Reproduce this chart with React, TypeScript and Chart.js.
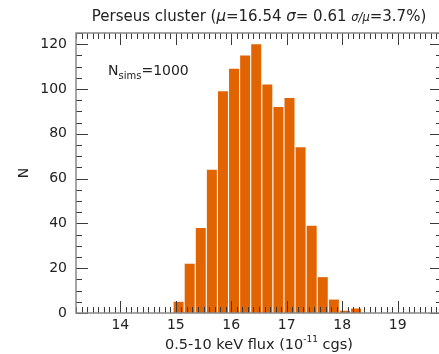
import React, { useEffect, useRef } from "react";
import { Chart, registerables } from "chart.js";

Chart.register(...registerables);

// ---- data ----
const binCenters = [15.05, 15.25, 15.45, 15.65, 15.85, 16.05, 16.25, 16.45, 16.65, 16.85, 17.05, 17.25, 17.45, 17.65, 17.85, 18.05, 18.25];
const counts = [5, 22, 38, 64, 99, 109, 115, 120, 102, 92, 96, 74, 39, 16, 6, 1, 2];
const xRange = [13.2, 19.8];
const yRange = [0, 125];
const xMajorStep = 1;
const xMinorStep = 0.1;
const yMajorStep = 20;
const yMinorStep = 5;

const titleParts: { t: string; italic?: boolean; small?: boolean }[] = [
  { t: "Perseus cluster (" },
  { t: "μ", italic: true },
  { t: "=16.54 " },
  { t: "σ", italic: true },
  { t: "= 0.61 " },
  { t: "σ/μ", italic: true, small: true },
  { t: "=3.7%)" },
];
const xTitleMain = "0.5-10 keV flux (10";
const xTitleSup = "-11";
const xTitleEnd = " cgs)";
const yTitle = "N";
const annotMain = "N";
const annotSub = "sims";
const annotEnd = "=1000";

const FONT = "'DejaVu Sans', Verdana, sans-serif";
const BAR_COLOR = "#E26400";

const decor = {
  id: "decor",
  afterDatasetsDraw(chart: any) {
    const { ctx, chartArea } = chart;
    const xs = chart.scales.x;
    const ys = chart.scales.y;
    const { left, right, top, bottom } = chartArea;
    ctx.save();
    // ticks
    ctx.strokeStyle = "#3a3a3a";
    ctx.lineWidth = 1;
    ctx.beginPath();
    const nx0 = Math.ceil(xRange[0] / xMinorStep - 1e-6);
    const nx1 = Math.floor(xRange[1] / xMinorStep + 1e-6);
    for (let i = nx0; i <= nx1; i++) {
      const v = i * xMinorStep;
      const major = Math.abs(v / xMajorStep - Math.round(v / xMajorStep)) < 1e-6;
      const len = major ? 12 : 6;
      const px = Math.round(xs.getPixelForValue(v)) + 0.5;
      ctx.moveTo(px, bottom);
      ctx.lineTo(px, bottom - len);
      ctx.moveTo(px, top);
      ctx.lineTo(px, top + len);
    }
    const ny0 = Math.ceil(yRange[0] / yMinorStep - 1e-6);
    const ny1 = Math.floor(yRange[1] / yMinorStep + 1e-6);
    for (let i = ny0; i <= ny1; i++) {
      const v = i * yMinorStep;
      const major = v % yMajorStep === 0;
      const len = major ? 12 : 6;
      const py = Math.round(ys.getPixelForValue(v)) + 0.5;
      ctx.moveTo(left, py);
      ctx.lineTo(left + len, py);
      ctx.moveTo(right, py);
      ctx.lineTo(right - len, py);
    }
    ctx.stroke();
    // frame
    ctx.strokeStyle = "#888";
    ctx.lineWidth = 1.5;
    ctx.strokeRect(left, top, right - left, bottom - top);
    ctx.restore();
  },
  afterDraw(chart: any) {
    const { ctx, chartArea } = chart;
    const { left, right, top, bottom } = chartArea;
    const cx = (left + right) / 2;
    ctx.save();
    ctx.fillStyle = "#222";
    ctx.textBaseline = "alphabetic";
    ctx.textAlign = "left";
    // title
    const fontFor = (p: any) => `${p.italic ? "italic " : ""}${p.small ? 11.5 : 15}px ${FONT}`;
    let total = 0;
    const widths = titleParts.map((p) => {
      ctx.font = fontFor(p);
      const w = ctx.measureText(p.t).width;
      total += w;
      return w;
    });
    let x = cx - total / 2;
    titleParts.forEach((p, i) => {
      ctx.font = fontFor(p);
      ctx.fillText(p.t, x, 21);
      x += widths[i];
    });
    // x title
    ctx.font = `14.5px ${FONT}`;
    const w1 = ctx.measureText(xTitleMain).width;
    const w3 = ctx.measureText(xTitleEnd).width;
    ctx.font = `9px ${FONT}`;
    const w2 = ctx.measureText(xTitleSup).width;
    let xx = cx - (w1 + w2 + w3) / 2;
    ctx.font = `14.5px ${FONT}`;
    ctx.fillText(xTitleMain, xx, 349);
    xx += w1;
    ctx.font = `9px ${FONT}`;
    ctx.fillText(xTitleSup, xx, 342);
    xx += w2;
    ctx.font = `14.5px ${FONT}`;
    ctx.fillText(xTitleEnd, xx, 349);
    // annotation
    let ax = 108;
    ctx.font = `14px ${FONT}`;
    ctx.fillText(annotMain, ax, 75);
    ax += ctx.measureText(annotMain).width;
    ctx.font = `10px ${FONT}`;
    ctx.fillText(annotSub, ax, 79);
    ax += ctx.measureText(annotSub).width;
    ctx.font = `14px ${FONT}`;
    ctx.fillText(annotEnd, ax, 75);
    // y title
    ctx.translate(28, (top + bottom) / 2);
    ctx.rotate(-Math.PI / 2);
    ctx.textAlign = "center";
    ctx.font = `14px ${FONT}`;
    ctx.fillText(yTitle, 0, 0);
    ctx.restore();
  },
};

export default function App() {
  const ref = useRef<HTMLCanvasElement | null>(null);
  useEffect(() => {
    if (!ref.current) return;
    const chart = new Chart(ref.current, {
      type: "bar",
      data: {
        datasets: [
          {
            data: binCenters.map((x, i) => ({ x, y: counts[i] })),
            backgroundColor: BAR_COLOR,
            borderWidth: 0,
            barPercentage: 0.9,
            categoryPercentage: 1,
          } as any,
        ],
      },
      options: {
        animation: false,
        responsive: false,
        maintainAspectRatio: false,
        layout: { padding: { top: 33, right: 3, left: 0, bottom: 0 } },
        plugins: {
          legend: { display: false },
          tooltip: { enabled: false },
          title: { display: false },
        },
        scales: {
          x: {
            type: "linear",
            min: xRange[0],
            max: xRange[1],
            offset: false,
            grid: { display: false, drawTicks: false, offset: false },
            border: { display: false },
            ticks: {
              stepSize: xMajorStep,
              includeBounds: false,
              autoSkip: false,
              maxRotation: 0,
              padding: 4,
              color: "#222",
              font: { family: FONT, size: 14 },
            },
            afterFit: (s: any) => {
              s.height = 41;
            },
          },
          y: {
            type: "linear",
            min: yRange[0],
            max: yRange[1],
            grid: { display: false, drawTicks: false },
            border: { display: false },
            ticks: {
              stepSize: yMajorStep,
              includeBounds: false,
              padding: 9,
              color: "#222",
              font: { family: FONT, size: 14 },
            },
            afterFit: (s: any) => {
              s.width = 76;
            },
          },
        } as any,
      },
      plugins: [decor],
    });
    return () => chart.destroy();
  }, []);
  return (
    <div style={{ position: "absolute", left: 0, top: 0, width: 439, height: 354, overflow: "hidden", background: "#fff" }}>
      <canvas ref={ref} width={445} height={354} style={{ display: "block", width: 445, height: 354 }} />
    </div>
  );
}
